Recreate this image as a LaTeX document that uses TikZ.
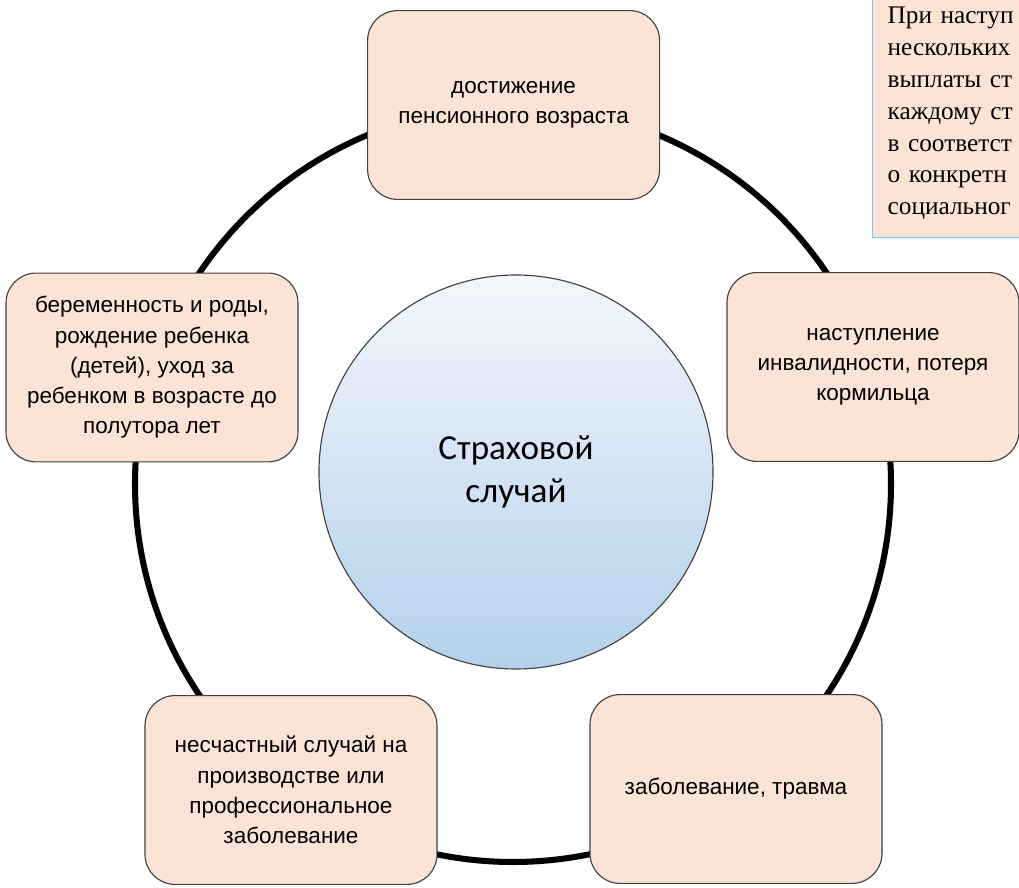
\documentclass[tikz,border=0pt]{standalone}
\usepackage{fontspec}
\setmainfont{Liberation Sans}
\newfontfamily\notefont{Liberation Serif}
\newfontfamily\hubfont{Carlito}
\usetikzlibrary{positioning}
\definecolor{boxfill}{RGB}{251,228,213}
\definecolor{boxline}{RGB}{64,64,64}
\definecolor{hubtop}{RGB}{243,247,252}
\definecolor{hubbot}{RGB}{180,208,235}
\definecolor{noteline}{RGB}{110,200,240}

\begin{document}
\begin{tikzpicture}[
  every node/.style={font=\fontsize{16}{21.5}\selectfont},
  casebox/.style={draw=boxline, line width=0.8pt, fill=boxfill, rounded corners=0.75cm,
    minimum width=7.3cm, minimum height=4.72cm, align=center, inner sep=2pt},
  hub/.style={circle, draw=boxline, line width=0.8pt, top color=hubtop, bottom color=hubbot,
    minimum size=9.85cm, align=center, font=\hubfont\fontsize{25}{31}\selectfont},
  note/.style={draw=noteline, line width=1pt, fill=boxfill, text width=4.6cm, align=left,
    minimum height=6.2cm, inner xsep=0.375cm,
    font=\notefont\fontsize{18}{22.7}\selectfont},
  ring/.style={circle, draw, line width=4.3pt, minimum size=18.9cm, inner sep=0pt}]
\useasboundingbox (0,0) rectangle (25.475,22.2);
\node[ring] (cycle) at (12.825,10.1) {};
\node[hub] (hub) at (12.9,10.4) {Страховой\\случай};
\node[casebox] (age) at (12.84,19.575) {достижение\\пенсионного возраста};
\node[casebox] (disab) at (21.825,13.025) {наступление\\инвалидности, потеря\\кормильца};
\node[casebox] (ill) at (18.4,2.475) {заболевание, травма};
\node[casebox] (injury) at (7.275,2.45) {несчастный случай на\\производстве или\\профессиональное\\заболевание};
\node[casebox] (birth) at (3.8,13.0125) {беременность и роды,\\рождение ребенка\\(детей), уход за\\ребенком в возрасте до\\полутора лет};
\node[note, anchor=south west] (note) at (21.8,16.25) {При наступ\\нескольких\\выплаты ст\\каждому ст\\в соответст\\о конкретн\\социальног};
\end{tikzpicture}
\end{document}
